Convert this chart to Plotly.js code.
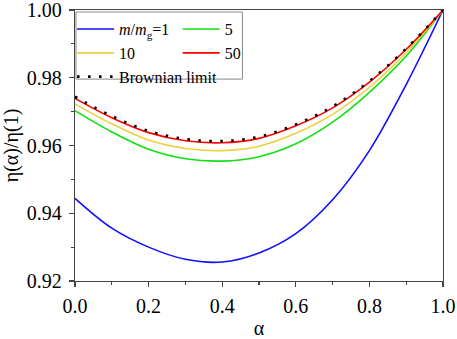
<!DOCTYPE html>
<html>
<head>
<meta charset="utf-8">
<script src="https://cdn.plot.ly/plotly-3.0.1.min.js"></script>
<style>
html,body{margin:0;padding:0;background:#fff;}
#chart{width:457px;height:339px;}
</style>
</head>
<body>
<div id="chart"></div>
<script>
const alpha = [0.0, 0.1, 0.2, 0.3, 0.4, 0.5, 0.6, 0.7, 0.8, 0.9, 1.0];
const eta_m1  = [0.9444, 0.9356, 0.9300, 0.9264, 0.9256, 0.9283, 0.9340, 0.9440, 0.9585, 0.9780, 1.0];
const eta_m5  = [0.9703, 0.9640, 0.9589, 0.9561, 0.9554, 0.9567, 0.9605, 0.9669, 0.9757, 0.9864, 1.0];
const eta_m10 = [0.9723, 0.9664, 0.9616, 0.9591, 0.9585, 0.9598, 0.9636, 0.9692, 0.9772, 0.9874, 1.0];
const eta_m50 = [0.9739, 0.9682, 0.9638, 0.9614, 0.9608, 0.9621, 0.9658, 0.9711, 0.9787, 0.9884, 1.0];
const eta_brown = [0.9744, 0.9687, 0.9643, 0.9619, 0.9613, 0.9626, 0.9662, 0.9715, 0.9790, 0.9886, 1.0];

const names = ['<i>m</i>/<i>m</i><sub>g</sub>=1', '5<sub> </sub>', '10', '50', 'Brownian limit'];
const xTickLabels = ['0.0','0.2','0.4','0.6','0.8','1.0'];
const yTickLabels = ['0.92','0.94','0.96','0.98','1.00'];

const font = '"Liberation Serif", "Times New Roman", serif';

const traces = [
  {x: alpha, y: eta_m1, name: names[0], mode: 'lines', line: {color: '#1010ff', width: 1.6, shape: 'spline'}, legend: 'legend'},
  {x: alpha, y: eta_m10, name: names[2], mode: 'lines', line: {color: '#ecd040', width: 1.6, shape: 'spline'}, legend: 'legend'},
  {x: alpha, y: eta_brown, name: names[4], mode: 'lines', line: {color: '#000000', width: 2.6, dash: '2.5px,8.5px', shape: 'spline'}, legend: 'legend'},
  {x: alpha, y: eta_m5, name: names[1], mode: 'lines', line: {color: '#10e010', width: 1.6, shape: 'spline'}, legend: 'legend2'},
  {x: alpha, y: eta_m50, name: names[3], mode: 'lines', line: {color: '#ff0000', width: 1.6, shape: 'spline'}, legend: 'legend2'}
];
const ordered = [traces[0], traces[3], traces[1], traces[4], traces[2]];

const axisCommon = {
  showline: true, linecolor: '#444', linewidth: 1.3, mirror: true,
  ticks: 'outside', ticklen: 5, tickwidth: 1.2, tickcolor: '#444',
  showgrid: false, zeroline: false, ticklabeloverflow: 'allow',
  tickfont: {family: font, size: 20, color: '#000'}
};

const layout = {
  width: 457, height: 339,
  margin: {l: 75, r: 14, t: 10, b: 58},
  paper_bgcolor: '#fff', plot_bgcolor: '#fff',
  font: {family: font, color: '#000'},
  xaxis: Object.assign({}, axisCommon, {
    range: [0, 1],
    tickvals: [0, 0.2, 0.4, 0.6, 0.8, 1.0], ticktext: xTickLabels,
    minor: {dtick: 0.1, tick0: 0, ticklen: 3, tickcolor: '#444', ticks: 'outside'},
    ticklabelstandoff: 2,
    title: {text: 'α', font: {family: font, size: 20}, standoff: 4}
  }),
  yaxis: Object.assign({}, axisCommon, {
    range: [0.92, 1.0],
    tickvals: [0.92, 0.94, 0.96, 0.98, 1.0], ticktext: yTickLabels,
    minor: {dtick: 0.01, tick0: 0.92, ticklen: 3, tickcolor: '#444', ticks: 'outside'},
    ticklabelstandoff: 3,
    title: {text: 'η(α)/η(1)', font: {family: font, size: 20}, standoff: 6}
  }),
  showlegend: true,
  legend: {x: -0.008, y: 0.992, xanchor: 'left', yanchor: 'top', bgcolor: 'rgba(0,0,0,0)', borderwidth: 0,
           font: {family: font, size: 16, color: '#000'}, itemwidth: 37, tracegroupgap: 0},
  legend2: {x: 0.279, y: 0.992, xanchor: 'left', yanchor: 'top', bgcolor: 'rgba(0,0,0,0)', borderwidth: 0,
           font: {family: font, size: 16, color: '#000'}, itemwidth: 37, tracegroupgap: 0},
  shapes: [{type: 'rect', xref: 'paper', yref: 'paper', x0: 0.0027, x1: 0.455, y0: 0.745, y1: 0.9926,
            line: {color: '#888', width: 1}, fillcolor: 'rgba(0,0,0,0)', layer: 'above'}]
};

Plotly.newPlot('chart', ordered, layout, {displayModeBar: false, staticPlot: true});
</script>
</body>
</html>
